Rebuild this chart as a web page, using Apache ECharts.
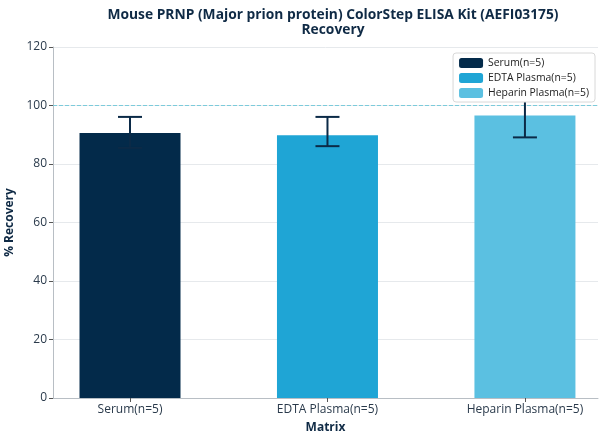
<!DOCTYPE html>
<html><head><meta charset="utf-8">
<script src="https://cdn.jsdelivr.net/npm/echarts@6/dist/echarts.min.js"></script>
<style>html,body{margin:0;padding:0;background:#fff}#c{width:608px;height:444px}</style>
</head><body><div id="c"></div>
<script>
const categories = ['Serum(n=5)', 'EDTA Plasma(n=5)', 'Heparin Plasma(n=5)'];
const positions = [0, 1, 2];
const recovery = [90.6, 89.8, 96.6];
const errLow = [85.5, 86.1, 89.1];
const errHigh = [96.1, 96.1, 104.0];
const refValue = 100;
const xRange = [-0.39, 2.37];
const colors = ['#032a4a', '#1fa5d5', '#5bc0e1'];
const yTicks = [0, 20, 40, 60, 80, 100, 120];

const chart = echarts.init(document.getElementById('c'));
const font = 'Open Sans';
const txt = '#2a3a4b';
const barSeries = categories.map((name, i) => ({
  name: name,
  type: 'bar',
  barWidth: 101,
  barGap: '-100%',
  itemStyle: { color: colors[i] },
  data: [[positions[i], recovery[i]]],
  z: 2
}));
chart.setOption({
  animation: false,
  textStyle: { fontFamily: font },
  title: {
    text: 'Mouse PRNP (Major prion protein) ColorStep ELISA Kit (AEFI03175)\nRecovery',
    left: 328, textAlign: 'center', top: 3,
    textStyle: { fontFamily: font, fontSize: 13.8, fontWeight: 'bold', color: '#0f2a45', lineHeight: 15 }
  },
  legend: {
    orient: 'vertical', right: 13, top: 53,
    itemWidth: 24, itemHeight: 10, itemGap: 5,
    borderColor: '#d8d8d8', borderWidth: 1, borderRadius: 3, backgroundColor: '#fff',
    padding: [5, 6, 4, 6],
    textStyle: { fontFamily: font, fontSize: 10.4, color: '#222' },
    data: categories, z: 10
  },
  grid: { left: 53, right: 10, top: 47, bottom: 46, outerBoundsMode: 'none', containLabel: false },
  xAxis: {
    type: 'value', min: xRange[0], max: xRange[1],
    name: 'Matrix', nameLocation: 'middle', nameGap: 24,
    nameTextStyle: { fontFamily: font, fontSize: 12, fontWeight: 'bold', color: '#0f2a45' },
    axisLine: { show: true, onZero: false, lineStyle: { color: '#b8bec4' } },
    axisTick: { show: true, length: 4, customValues: positions, lineStyle: { color: '#555' } },
    axisLabel: { fontFamily: font, fontSize: 12, color: txt, margin: 6, customValues: positions,
      formatter: v => categories[Math.round(v)] },
    splitLine: { show: false }
  },
  yAxis: {
    type: 'value', min: yTicks[0], max: yTicks[yTicks.length - 1], interval: 20,
    name: '% Recovery', nameLocation: 'middle', nameGap: 36, nameRotate: 90,
    nameTextStyle: { fontFamily: font, fontSize: 12, fontWeight: 'bold', color: '#0f2a45' },
    axisLine: { show: true, onZero: false, lineStyle: { color: '#b8bec4' } },
    axisTick: { show: true, length: 4, lineStyle: { color: '#555' } },
    axisLabel: { fontFamily: font, fontSize: 12, color: txt, margin: 6 },
    splitLine: { lineStyle: { color: '#e6e9ec' } }
  },
  series: barSeries.concat([
    {
      type: 'line', name: 'ref', z: 1, silent: true, symbol: 'none',
      data: xRange.map(x => [x, refValue]),
      lineStyle: { type: [4, 2], color: '#7ccbdb', width: 1 },
      itemStyle: { color: '#7ccbdb' },
      emphasis: { disabled: true }
    },
    {
      type: 'custom', name: 'err', z: 5,
      data: positions.map((p, i) => [p, errLow[i], errHigh[i]]),
      renderItem: function (params, api) {
        const lo = api.coord([api.value(0), api.value(1)]);
        const hi = api.coord([api.value(0), api.value(2)]);
        const hw = 12;
        const st = { stroke: '#0b2a47', lineWidth: 2 };
        return { type: 'group', children: [
          { type: 'line', shape: { x1: lo[0], y1: lo[1], x2: hi[0], y2: hi[1] }, style: st },
          { type: 'line', shape: { x1: lo[0] - hw, y1: lo[1], x2: lo[0] + hw, y2: lo[1] }, style: st },
          { type: 'line', shape: { x1: hi[0] - hw, y1: hi[1], x2: hi[0] + hw, y2: hi[1] }, style: st }
        ]};
      }
    }
  ])
});
</script></body></html>
